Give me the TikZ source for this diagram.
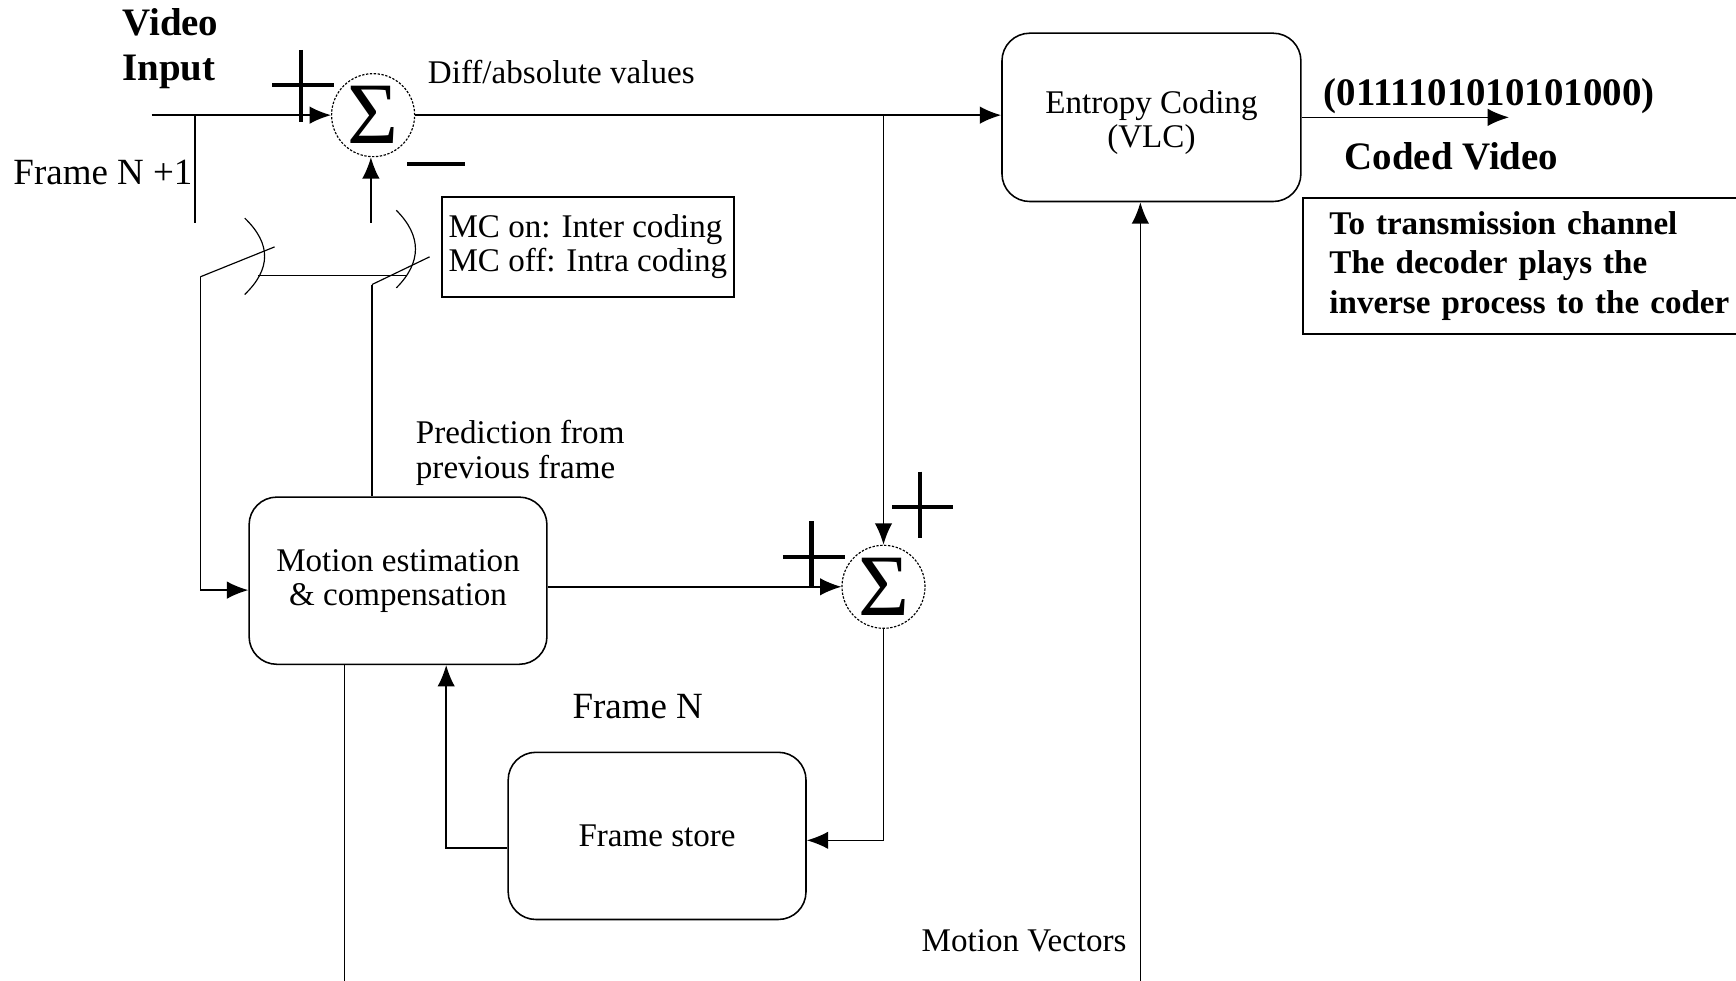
\documentclass[tikz,border=0pt]{standalone}
\usepackage{fontspec}
\setmainfont{Liberation Serif}
\usetikzlibrary{arrows.meta}

\newcommand{\lblfont}{\fontsize{17}{17.6}\selectfont}
\newcommand{\bigfont}{\fontsize{20}{23}\selectfont}

\begin{document}
\begin{tikzpicture}[
    x=0.2mm, y=-0.2mm,
    line width=0.8pt,
    every node/.style={
        font=\lblfont,
        inner sep=0pt,
    },
    block/.style={
        rectangle,
        draw,
        rounded corners=5mm,
        align=center,
        minimum width=53.8mm,
        minimum height=30.2mm,
    },
    adder/.style={
        circle,
        draw,
        line width=0.6pt,
        dash pattern=on 1.2pt off 0.8pt,
        minimum size=15mm,
        font=\fontsize{45}{45}\selectfont,
    },
    note/.style={rectangle, draw, align=left, line width=0.9pt},
    signline/.style={line width=2.2pt},
    switchline/.style={line width=0.6pt},
    >={Latex[length=11pt,width=9pt]}
]

\useasboundingbox (0,0) rectangle (1568,886);

\node[font=\bigfont\bfseries, align=left, anchor=west] (video_in_lbl) at (110,44) {Video\\Input};
\node[font=\fontsize{19}{19}\selectfont] (frame_n1_lbl) at (93,156) {Frame N +1};
\node[adder] (sum_top) at (337,104) {Σ};
\node (diff_lbl) at (507,65) {Diff/absolute values};
\node[note, inner xsep=1.2mm, minimum width=51.6mm, minimum height=18mm] (mc_note) at (531,223) {MC on: Inter coding\\MC off: Intra coding};
\node[block, minimum width=54mm, minimum height=30.4mm] (entropy) at (1040,106) {\rule{0pt}{17pt}Entropy Coding\\(VLC)};
\node[font=\bigfont\bfseries] (bits_lbl) at (1345,87) {(0111101010101000)};
\node[font=\bigfont\bfseries] (coded_lbl) at (1311,141) {Coded Video};
\node[note, anchor=north west, text width=76mm, inner xsep=4.8mm, minimum height=24.6mm,
      font=\fontsize{17}{20.5}\selectfont\bfseries] (tx_note) at (1176,178)
      {To transmission channel\\The decoder plays the\\inverse process to the coder};
\node[align=left, anchor=west] (pred_lbl) at (375,409) {Prediction from\\previous frame};
\node[block] (motion_est) at (359.5,524.5) {Motion estimation\\\& compensation};
\node[adder] (sum_bottom) at (798,530) {Σ};
\node[font=\fontsize{19}{19}\selectfont] (frame_n_lbl) at (576,638) {Frame N};
\node[block] (frame_store) at (593.5,755) {Frame store};
\node (mv_lbl) at (925,850) {Motion Vectors};

\coordinate (in_start) at (137,104);
\coordinate (tap_in) at (176,104);
\coordinate (sw_left_top) at (176,201);
\coordinate (sw_left) at (181,250);
\coordinate (me_in) at (181,533);
\coordinate (sw_right) at (336,257);
\coordinate (pred_up) at (335,201);
\coordinate (tap_out) at (798,104);
\coordinate (coded_end) at (1363,106);
\coordinate (mv_start) at (1030,886);
\coordinate (me_down) at (311,886);
\coordinate (fb_in) at (798,759);
\coordinate (fs_out) at (403,766);

\draw[->] (in_start) -- (sum_top);
\draw (tap_in) -- (sw_left_top);
\draw[->] (sum_top) -- (sum_top -| entropy.west);
\draw[->] (tap_out) -- (sum_bottom);
\draw[->] (entropy.east) -- (coded_end);
\draw[->] (mv_start) -- (mv_start |- entropy.south);
\draw[->] (pred_up) -- (pred_up |- sum_top.south);
\draw (sw_right) -- (sw_right |- motion_est.north);
\draw[->] (sw_left) -- (me_in) -- (me_in -| motion_est.west);
\draw[->] (motion_est.east |- sum_bottom) -- (sum_bottom);
\draw[->] (sum_bottom) -- (fb_in) -- (fb_in -| frame_store.east);
\draw[->] (frame_store.west |- fs_out) -- (fs_out) -- (fs_out |- motion_est.south);
\draw (motion_est.south -| me_down) -- (me_down);

\draw[switchline] (221,197) .. controls (245,220) and (245,243) .. (221,266);
\draw[switchline] (358,190) .. controls (381,213) and (381,237) .. (358,260);
\draw[switchline] (sw_left) -- (248,223);
\draw[switchline] (sw_right) -- (388,232);
\draw (233,249) -- (367,249);

\draw[signline] (246,77) -- (302,77);
\draw[signline] (272,45) -- (272,110);
\draw[signline] (368,148) -- (420,148);
\draw[signline] (707,503) -- (763,503);
\draw[signline] (733,471) -- (733,531);
\draw[signline] (806,458) -- (861,458);
\draw[signline] (831,426) -- (831,486);

\end{tikzpicture}
\end{document}
